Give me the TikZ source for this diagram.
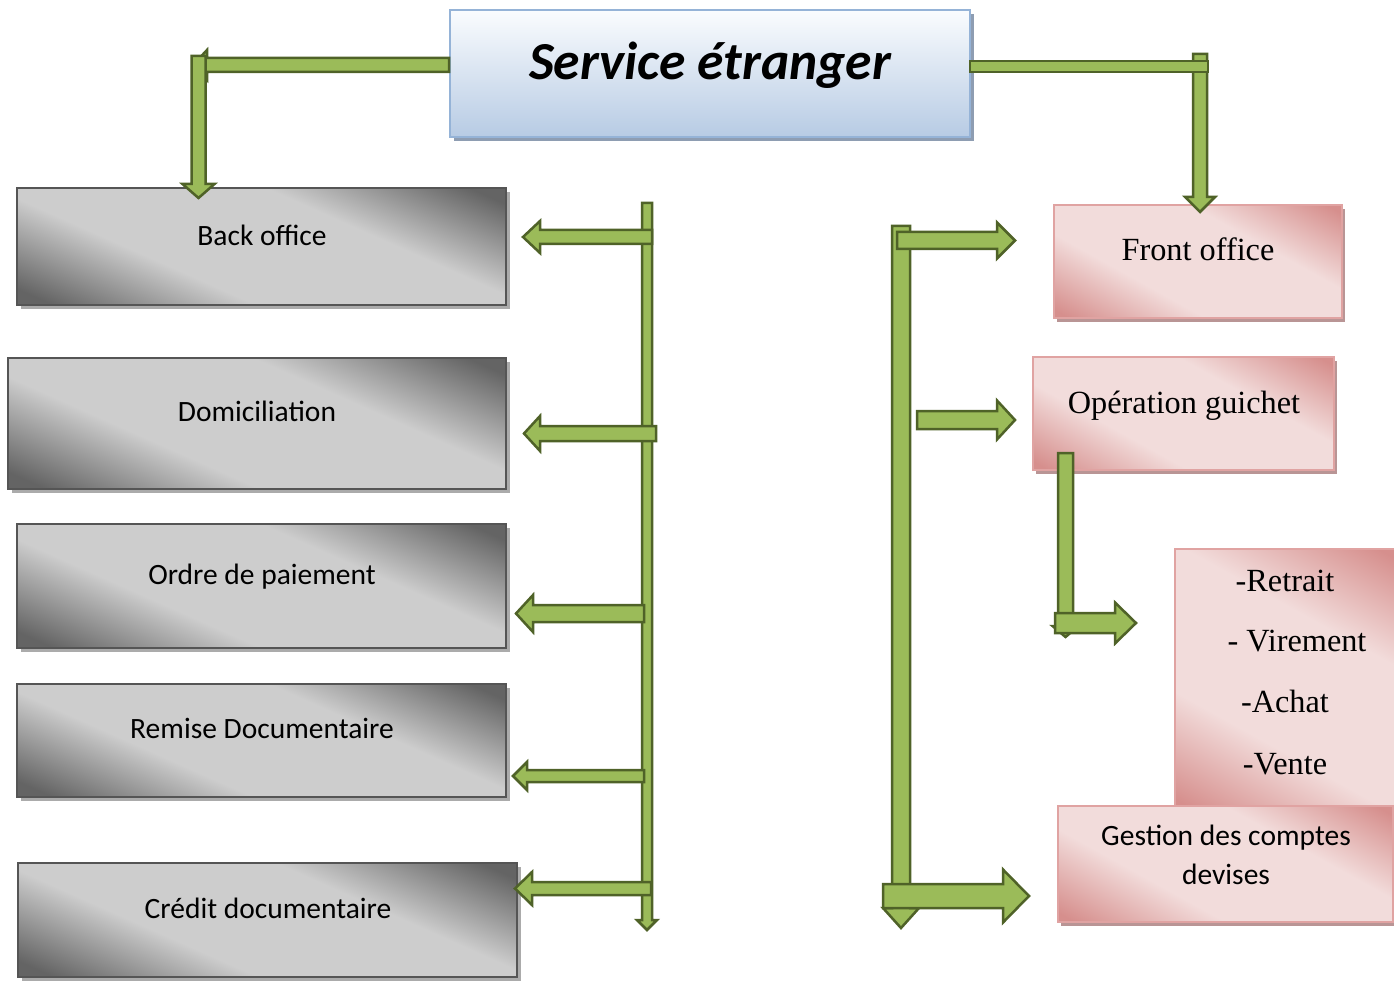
\documentclass[tikz,border=0pt]{standalone}
\usepackage{fontspec}
\setmainfont{Carlito}
\newfontfamily\tnr{Liberation Serif}
\usetikzlibrary{shadows}
\definecolor{gdark}{HTML}{646464}
\definecolor{glight}{HTML}{CDCDCD}
\definecolor{gbord}{HTML}{555555}
\definecolor{gshadow}{HTML}{ABABAB}
\definecolor{pdark}{HTML}{D68F8D}
\definecolor{plight}{HTML}{F2DCDB}
\definecolor{pbord}{HTML}{E0A3A2}
\definecolor{pshadow}{HTML}{B99595}
\definecolor{ttop}{HTML}{FAFCFE}
\definecolor{tbot}{HTML}{B7CBE4}
\definecolor{tbord}{HTML}{95B3D7}
\definecolor{tshadow}{HTML}{8E9DB2}
\definecolor{afill}{HTML}{9BBB59}
\definecolor{aline}{HTML}{4F6228}
\pgfdeclarehorizontalshading{grayband}{100bp}{color(0bp)=(gdark); color(20bp)=(gdark); color(38bp)=(glight); color(62bp)=(glight); color(80bp)=(gdark); color(100bp)=(gdark)}
\pgfdeclarehorizontalshading{pinkband}{100bp}{color(0bp)=(pdark); color(18bp)=(pdark); color(37bp)=(plight); color(63bp)=(plight); color(82bp)=(pdark); color(100bp)=(pdark)}
\tikzset{
  graybox/.style={draw=gbord, line width=2.2pt, shading=grayband, shading angle=66, inner sep=0pt,
    drop shadow={shadow xshift=4pt, shadow yshift=-4pt, fill=gshadow, opacity=1}},
  pinkbox/.style={draw=pbord, line width=2pt, shading=pinkband, shading angle=61, inner sep=0pt,
    drop shadow={shadow xshift=3pt, shadow yshift=-4pt, fill=pshadow, opacity=1}},
  titlebox/.style={draw=tbord, line width=2pt, top color=ttop, bottom color=tbot, inner sep=0pt,
    drop shadow={shadow xshift=4pt, shadow yshift=-4pt, fill=tshadow, opacity=1}},
  stxt/.style={font=\fontsize{29.5}{35}\selectfont, text height=0.7em, text depth=0.2em, inner sep=0pt, yshift=-7pt},
  rtxt/.style={font=\tnr\fontsize{32.3}{38}\selectfont, text height=0.7em, text depth=0.2em, inner sep=0pt, yshift=-8pt},
  blk/.style={fill=afill, draw=aline, line width=2.5pt, line join=miter}
}
% horizontal block arrow: tail x, head base x, tip x, y, half shaft, half head
\newcommand{\harr}[6]{\draw[blk] (#1,#4-#5) -- (#2,#4-#5) -- (#2,#4-#6) -- (#3,#4) -- (#2,#4+#6) -- (#2,#4+#5) -- (#1,#4+#5) -- cycle;}
% vertical block arrow: x, tail y, head base y, tip y, half shaft, half head
\newcommand{\varr}[6]{\draw[blk] (#1-#5,#2) -- (#1-#5,#3) -- (#1-#6,#3) -- (#1,#4) -- (#1+#6,#3) -- (#1+#5,#3) -- (#1+#5,#2) -- cycle;}
\begin{document}
\begin{tikzpicture}[x=1pt,y=-1pt]
\useasboundingbox (0,0) rectangle (1394,981);
% boxes
\node[titlebox, minimum width=520pt, minimum height=127pt] (ttl) at (710,73.5) {};
\node[font=\fontsize{53.5}{64}\selectfont\bfseries\itshape, inner sep=0pt, yshift=-3pt] (ttlt) at (710,62) {Service étranger};

\node[graybox, minimum width=489pt, minimum height=117pt] (bo) at (261.5,246.5) {};
\node[graybox, minimum width=498pt, minimum height=131pt] (dom) at (257,423.5) {};
\node[graybox, minimum width=489pt, minimum height=124pt] (odp) at (261.5,586) {};
\node[graybox, minimum width=489pt, minimum height=113pt] (rd) at (261.5,740.5) {};
\node[graybox, minimum width=499pt, minimum height=114pt] (cd) at (267.5,920) {};
\node[stxt] (bot) at (262,236) {Back office};
\node[stxt] (domt) at (257,412) {Domiciliation};
\node[stxt] (odpt) at (262,575) {Ordre de paiement};
\node[stxt] (rdt) at (262,729) {Remise Documentaire};
\node[stxt] (cdt) at (268,909) {Crédit documentaire};

\node[pinkbox, minimum width=288pt, minimum height=113pt] (fo) at (1198,261.5) {};
\node[pinkbox, minimum width=301pt, minimum height=113pt] (og) at (1183.5,413.5) {};
\node[pinkbox, minimum width=225pt, minimum height=262pt] (lst) at (1287.5,680) {};
\node[pinkbox, minimum width=335pt, minimum height=116pt] (gcd) at (1225.5,864) {};
\node[rtxt] (fot) at (1198,250) {Front office};
\node[rtxt] (ogt) at (1184,403) {Opération guichet};
\node[rtxt] (l1) at (1285,581) {-Retrait};
\node[rtxt] (l2) at (1297,641) {- Virement};
\node[rtxt] (l3) at (1285,702) {-Achat};
\node[rtxt] (l4) at (1285,764) {-Vente};
\node[stxt] (g1) at (1226,836) {Gestion des comptes};
\node[stxt] (g2) at (1226,875) {devises};

% top connectors
\harr{449}{207}{193}{65}{7}{15}
\varr{198.5}{56}{184}{198}{7}{16}
\varr{1200}{54}{197}{212}{7}{15}
\draw[blk] (970,61) rectangle (1208,72);

% left trunk
\varr{647}{203}{920}{930}{5}{10}
\harr{652}{540}{523}{237}{7}{16}
\harr{656}{540}{524}{433.5}{7.5}{17.5}
\harr{644}{533}{516}{613.5}{8.5}{18.5}
\harr{644}{527}{513}{776}{6}{14}
\harr{651}{532}{515}{888.5}{6.5}{16.5}

% right trunk
\varr{901}{226}{908}{928}{9}{18}
\harr{897}{997}{1015}{240.5}{8.5}{18}
\harr{917}{997}{1015}{420}{9}{19.5}
\harr{883}{1003}{1029}{896}{12}{26.5}

% guichet to list
\varr{1065.5}{453}{626}{637}{7.5}{13}
\harr{1055}{1115}{1136}{623}{10}{20.5}
\end{tikzpicture}
\end{document}
